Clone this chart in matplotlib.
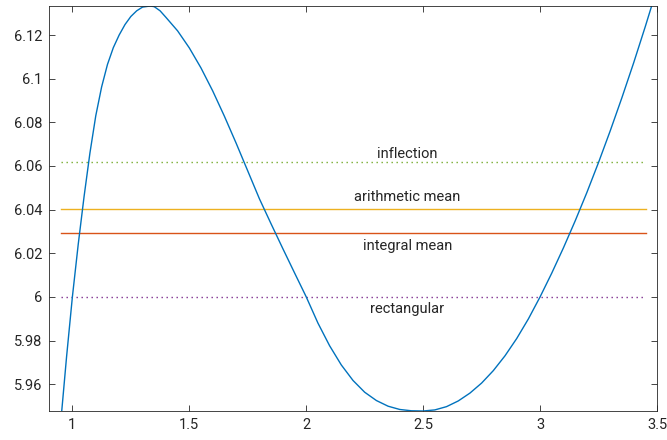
import matplotlib
matplotlib.use("Agg")
import matplotlib.pyplot as plt

plt.rcParams['font.family'] = ['Roboto', 'DejaVu Sans']

# Curve values
curve_x = [0.95, 0.975, 1.00, 1.025, 1.05, 1.075, 1.10, 1.125, 1.15, 1.175, 1.20, 1.225,
           1.25, 1.275, 1.30, 1.333, 1.35, 1.375, 1.40, 1.45,
           1.50, 1.55, 1.60, 1.65, 1.70, 1.75, 1.80, 1.85, 1.90, 1.95,
           2.00, 2.05, 2.10, 2.15, 2.20, 2.25, 2.30, 2.35, 2.40, 2.45,
           2.50, 2.55, 2.60, 2.65, 2.70, 2.75, 2.80, 2.85, 2.90, 2.95,
           3.00, 3.05, 3.10, 3.15, 3.20, 3.25, 3.30, 3.35, 3.40, 3.45, 3.50]
curve_y = [5.9423, 5.9724, 6.0000, 6.0241, 6.0460, 6.0659, 6.0830, 6.0962, 6.1065, 6.1142, 6.1200, 6.1248,
           6.1285, 6.1311, 6.1328, 6.1333, 6.1330, 6.1311, 6.1281, 6.1219,
           6.1141, 6.1049, 6.0944, 6.0828, 6.0705, 6.0577, 6.0449, 6.0334, 6.0221, 6.0110,
           6.0000, 5.9880, 5.9776, 5.9688, 5.9617, 5.9563, 5.9525, 5.9499, 5.9484, 5.9478,
           5.9477, 5.9482, 5.9497, 5.9523, 5.9559, 5.9605, 5.9662, 5.9730, 5.9809, 5.9899,
           6.0000, 6.0109, 6.0225, 6.0348, 6.0478, 6.0616, 6.0761, 6.0913, 6.1072, 6.1239, 6.1413]

# Reference levels
level_names = ['inflection', 'arithmetic mean', 'integral mean', 'rectangular']
level_values = [6.0618, 6.0405, 6.0295, 6.0]
level_span = [0.95, 3.455]
label_x = 2.433
label_y = [6.0636, 6.0438, 6.0214, 5.9927]

xticks = [1, 1.5, 2, 2.5, 3, 3.5]
xtick_labels = ['1', '1.5', '2', '2.5', '3', '3.5']
yticks = [5.96, 5.98, 6.0, 6.02, 6.04, 6.06, 6.08, 6.1, 6.12]
ytick_labels = ['5.96', '5.98', '6', '6.02', '6.04', '6.06', '6.08', '6.1', '6.12']

colors = {'curve': '#0072BD', 'inflection': '#77AC30', 'arithmetic mean': '#EDB120',
          'integral mean': '#D95319', 'rectangular': '#7E2F8E'}
styles = {'inflection': (0, (1.0, 2.6)), 'arithmetic mean': '-',
          'integral mean': '-', 'rectangular': (0, (1.0, 2.6))}

fig = plt.figure(figsize=(6.67, 4.4), dpi=100)
ax = fig.add_axes([49 / 667, (440 - 411) / 440, 608 / 667, 405 / 440])

for name, val in zip(level_names, level_values):
    ax.plot(level_span, [val, val], color=colors[name], linestyle=styles[name], lw=1.0)

ax.plot(curve_x, curve_y, color=colors['curve'], lw=1.0)

for name, ly in zip(level_names, label_y):
    ax.text(label_x, ly, name, ha='center', va='baseline', fontsize=10.5, color='#262626')

ax.set_xlim(0.9, 3.5)
ax.set_ylim(5.9477, 6.1333)
ax.set_xticks(xticks)
ax.set_xticklabels(xtick_labels)
ax.set_yticks(yticks)
ax.set_yticklabels(ytick_labels)
ax.tick_params(direction='in', top=True, right=True, length=4.5, width=0.6,
               color='#262626', labelcolor='#262626', labelsize=10.5, pad=5)
for s in ax.spines.values():
    s.set_color('#262626')
    s.set_linewidth(0.6)

fig.savefig('out.png', dpi=100)
